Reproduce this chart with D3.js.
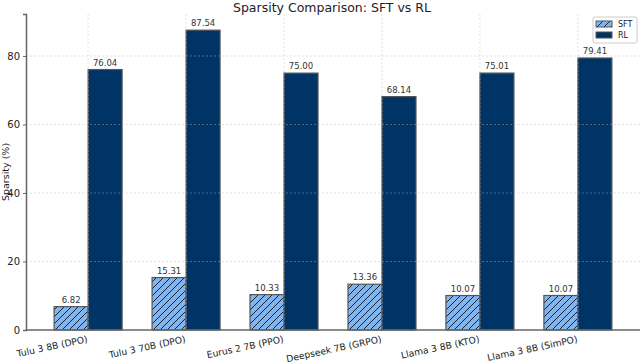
<!DOCTYPE html>
<html>
<head>
<meta charset="utf-8">
<script src="https://cdn.jsdelivr.net/npm/d3@7"></script>
<style>
  body { margin: 0; background: #fff; }
  svg { font-family: "DejaVu Sans", sans-serif; }
</style>
</head>
<body>
<svg id="chart"></svg>
<script>
const models = ['Tulu 3 8B (DPO)', 'Tulu 3 70B (DPO)', 'Eurus 2 7B (PPO)', 'Deepseek 7B (GRPO)', 'Llama 3 8B (KTO)', 'Llama 3 8B (SimPO)'];
const sftValues = [6.82, 15.31, 10.33, 13.36, 10.07, 10.07];
const rlValues = [76.04, 87.54, 75.00, 68.14, 75.01, 79.41];
const yTicks = [0, 20, 40, 60, 80];

const width = 640;
const height = 364;
const margin = { top: 14, right: 0, bottom: 34, left: 26 };

const svg = d3.select('#chart').attr('width', width).attr('height', height);

// hatch pattern for SFT
const hs = 7;
const defs = svg.append('defs');
const pat = defs.append('pattern')
  .attr('id', 'hatch')
  .attr('patternUnits', 'userSpaceOnUse')
  .attr('width', hs)
  .attr('height', hs);
pat.append('rect').attr('width', hs).attr('height', hs).attr('fill', '#7fb6f2');
pat.append('path')
  .attr('d', `M-1,1 l2,-2 M0,${hs} l${hs},-${hs} M${hs - 1},${hs + 1} l2,-2`)
  .attr('stroke', '#111')
  .attr('stroke-width', 0.9);

const x = d3.scaleLinear()
  .domain([-0.634, models.length - 1 + 0.634])
  .range([margin.left, width - margin.right]);

const y = d3.scaleLinear()
  .domain([0, 92.26])
  .range([height - margin.bottom, margin.top]);

const barW = 34;

const series = [
  { name: 'SFT', values: sftValues, fill: 'url(#hatch)', offset: -barW / 2 },
  { name: 'RL', values: rlValues, fill: '#003366', offset: barW / 2 }
];

series.forEach(s => {
  svg.append('g')
    .selectAll('rect')
    .data(s.values)
    .enter()
    .append('rect')
    .attr('x', (d, i) => x(i) + s.offset - barW / 2)
    .attr('y', d => y(d))
    .attr('width', barW)
    .attr('height', d => y(0) - y(d))
    .attr('fill', s.fill)
    .attr('stroke', '#555')
    .attr('stroke-width', 1.2);

  svg.append('g')
    .selectAll('text')
    .data(s.values)
    .enter()
    .append('text')
    .attr('x', (d, i) => x(i) + s.offset)
    .attr('y', d => y(d) - 4)
    .attr('text-anchor', 'middle')
    .attr('font-size', 8.5)
    .attr('fill', '#333')
    .text(d => d.toFixed(2));
});

// grid on top, light dashed
const grid = svg.append('g')
  .attr('stroke', '#bbb')
  .attr('stroke-dasharray', '2,2')
  .attr('stroke-width', 0.6)
  .attr('opacity', 0.7);

grid.selectAll('.hg')
  .data(yTicks.slice(1))
  .enter()
  .append('line')
  .attr('x1', margin.left)
  .attr('x2', width - margin.right)
  .attr('y1', d => y(d))
  .attr('y2', d => y(d));

grid.selectAll('.vg')
  .data(models)
  .enter()
  .append('line')
  .attr('x1', (d, i) => x(i))
  .attr('x2', (d, i) => x(i))
  .attr('y1', margin.top)
  .attr('y2', height - margin.bottom);

// axes
const yAxis = svg.append('g')
  .attr('transform', `translate(${margin.left},0)`)
  .call(d3.axisLeft(y).tickValues(yTicks).tickSize(3).tickPadding(3));
yAxis.select('.domain').attr('stroke', '#666').attr('stroke-width', 1.5);
yAxis.selectAll('.tick line').attr('stroke', '#666');
yAxis.selectAll('.tick text').attr('font-size', 10).attr('fill', '#222')
  .attr('font-family', '"DejaVu Sans", sans-serif');

svg.append('line')
  .attr('x1', margin.left)
  .attr('x2', width)
  .attr('y1', y(0))
  .attr('y2', y(0))
  .attr('stroke', '#666')
  .attr('stroke-width', 1.5);

const xt = svg.append('g')
  .selectAll('g')
  .data(models)
  .enter()
  .append('g')
  .attr('transform', (d, i) => `translate(${x(i)},${y(0) + 12}) rotate(-12)`);
xt.append('text')
  .attr('text-anchor', 'end')
  .attr('font-size', 9.2)
  .attr('fill', '#222')
  .text(d => d);

// title
svg.append('text')
  .attr('x', 332)
  .attr('y', 12)
  .attr('text-anchor', 'middle')
  .attr('font-size', 12.5)
  .attr('fill', '#222')
  .text('Sparsity Comparison: SFT vs RL');

// y label
svg.append('text')
  .attr('transform', `translate(9,${(margin.top + y(0)) / 2}) rotate(-90)`)
  .attr('text-anchor', 'middle')
  .attr('font-size', 9.5)
  .attr('fill', '#222')
  .text('Sparsity (%)');

// legend
const lg = svg.append('g').attr('transform', 'translate(593,17)');
lg.append('rect')
  .attr('width', 44).attr('height', 26)
  .attr('fill', '#fff').attr('fill-opacity', 0.8)
  .attr('stroke', '#ccc').attr('rx', 2);
series.forEach((s, i) => {
  lg.append('rect')
    .attr('x', 3).attr('y', 4 + i * 11)
    .attr('width', 16).attr('height', 6)
    .attr('fill', s.fill)
    .attr('stroke', '#555').attr('stroke-width', 1);
  lg.append('text')
    .attr('x', 25).attr('y', 10 + i * 11)
    .attr('font-size', 8)
    .attr('fill', '#222')
    .text(s.name);
});
</script>
</body>
</html>
